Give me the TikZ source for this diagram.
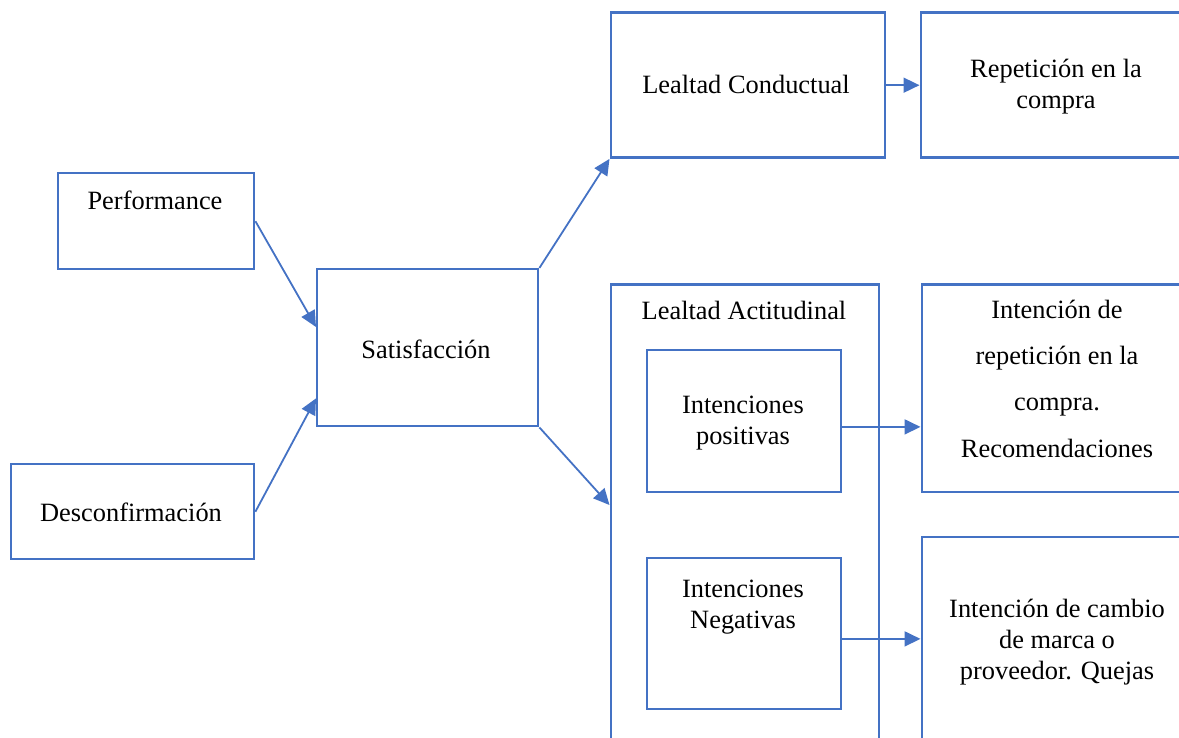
\documentclass[tikz,border=0pt]{standalone}
\usepackage{fontspec}
\setmainfont{Liberation Serif}
\usetikzlibrary{arrows.meta,calc}
\definecolor{linec}{HTML}{4472C4}
\begin{document}
\begin{tikzpicture}[x=1pt,y=-1pt,
  box/.style n args={2}{draw=linec,line width=2.4pt,inner sep=0pt,
    anchor=north west,minimum width=#1pt,minimum height=#2pt},
  txt/.style={inner sep=0pt,align=center,text=black,
    font=\fontsize{26.4}{31}\selectfont},
  widetxt/.style={txt,font=\fontsize{26.4}{46.3}\selectfont},
  arr/.style={draw=linec,line width=1.8pt,
    -{Triangle[length=16pt,width=15pt]}}]
\useasboundingbox (0,0) rectangle (1179,738);
\clip (0,0) rectangle (1179,738);

% boxes
\node[box={196}{96}]  (perf) at (57,172)   {};
\node[box={243}{95}]  (desc) at (10,463)   {};
\node[box={221}{157}] (sat)  at (316,268)  {};
\node[box={274}{145}] (lc)   at (609.5,11.5) {};
\node[box={274}{145}] (rep)  at (919.5,11.5) {};
\node[box={268}{480}] (la)   at (609.5,283.5) {};
\node[box={194}{142}] (ipos) at (646,349)  {};
\node[box={194}{151}] (ineg) at (646,557)  {};
\node[box={274}{207}] (rint) at (920.5,283.5) {};
\node[box={274}{212}] (rcam) at (920.5,536) {};

% labels
\node[txt] (perfT) at (155,200)    {Performance};
\node[txt] (descT) at (131,512)    {Desconfirmación};
\node[txt] (satT)  at (426,349)    {Satisfacción};
\node[txt] (lcT)   at (746,84)     {Lealtad Conductual};
\node[txt] (repT)  at (1056,86.4)  {Repetición en la\\compra};
\node[txt] (laT)   at (744,310)    {Lealtad Actitudinal};
\node[txt] (iposT) at (743,423.4)  {Intenciones\\positivas};
\node[txt] (inegT) at (743,607.3)  {Intenciones\\Negativas};
\node[widetxt] (rintT) at (1057,378.5) {Intención de\\repetición en la\\compra.\\Recomendaciones};
\node[txt] (rcamT) at (1057,642.3) {Intención de cambio\\de marca o\\proveedor. Quejas};

% connectors
\draw[arr] (perf.east) -- ([yshift=-59pt]sat.north west);
\draw[arr] (desc.east) -- ([yshift=29pt]sat.south west);
\draw[arr] (sat.north east) -- (lc.south west);
\draw[arr] (sat.south east) -- ([yshift=-221.5pt]la.north west);
\draw[arr] (lc.east) -- (rep.west);
\draw[arr] ([yshift=-5.7pt]ipos.east) -- ([yshift=-5.7pt]ipos.east -| rint.west);
\draw[arr] ([yshift=-5.2pt]ineg.east) -- ([yshift=-5.2pt]ineg.east -| rcam.west);
\end{tikzpicture}
\end{document}
